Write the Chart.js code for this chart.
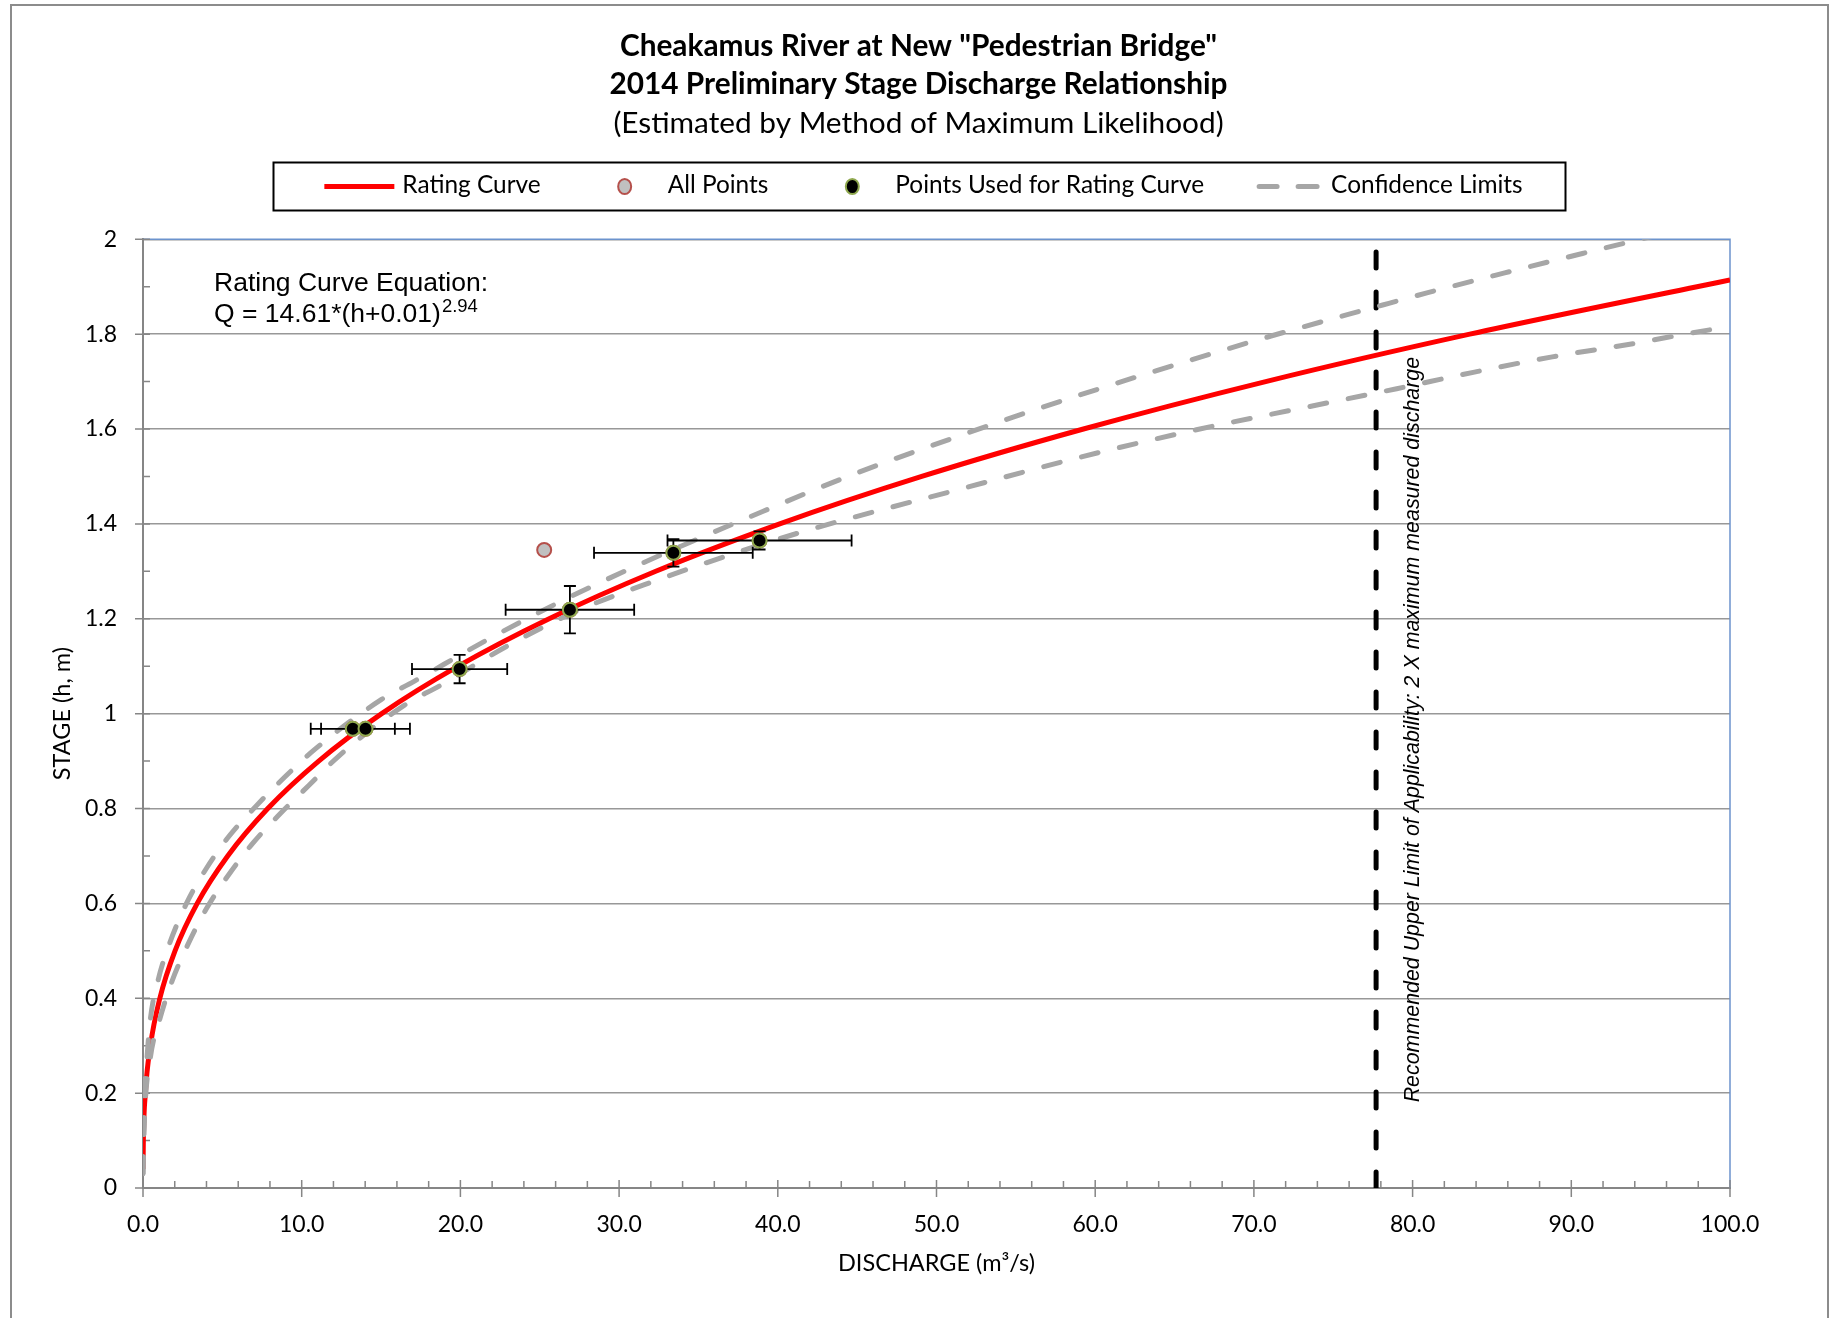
<!DOCTYPE html>
<html>
<head>
<meta charset="utf-8">
<title>Cheakamus River Stage Discharge</title>
<script src="https://cdn.jsdelivr.net/npm/chart.js@4.4.1/dist/chart.umd.min.js"></script>
<style>
html,body{margin:0;padding:0;background:#ffffff;overflow:hidden;}
canvas{display:block;}
</style>
</head>
<body>
<canvas id="chart" width="1837" height="1318"></canvas>
<script>
// ---------------- text ----------------
const titleLines = ['Cheakamus River at New "Pedestrian Bridge"', '2014 Preliminary Stage Discharge Relationship'];
const subtitleText = '(Estimated by Method of Maximum Likelihood)';
const seriesNames = ['Rating Curve', 'All Points', 'Points Used for Rating Curve', 'Confidence Limits'];
const xAxisTitle = 'DISCHARGE (m\u00B3/s)';
const yAxisTitle = 'STAGE (h, m)';
const equationLine1 = 'Rating Curve Equation:';
const equationLine2 = 'Q = 14.61*(h+0.01)';
const equationExponent = '2.94';
const limitLabel = 'Recommended Upper Limit of Applicability: 2 X maximum measured discharge';

// ---------------- ticks ----------------
const xTickValues = [0, 10, 20, 30, 40, 50, 60, 70, 80, 90, 100];
const yTickValues = [0, 0.2, 0.4, 0.6, 0.8, 1.0, 1.2, 1.4, 1.6, 1.8, 2.0];
const xMinorStep = 2;
const yMinorStep = 0.1;

// ---------------- series ----------------
// Rating curve (discharge Q, stage h)
const ratingQ = [0.002, 0.022, 0.149, 0.467, 1.062, 2.018, 3.416, 5.337, 7.863, 11.07, 15.04, 19.86, 25.59, 32.31, 40.12, 49.07, 59.26, 70.74, 83.60, 97.92, 100];
const ratingH = [0.04, 0.10, 0.20, 0.30, 0.40, 0.50, 0.60, 0.70, 0.80, 0.90, 1.00, 1.10, 1.20, 1.30, 1.40, 1.50, 1.60, 1.70, 1.80, 1.90, 1.914];

// Upper confidence limit
const upperQ = [0.0, 0.05, 0.25, 0.46, 0.95, 1.68, 2.74, 3.96, 5.43, 7.12, 8.95, 10.84, 15.03, 17.08, 21.66, 26.0, 30.59, 35.29, 37.47, 44.64, 51.82, 56.6, 63.77, 71.08, 76.0, 78.5, 80.9, 85.8, 90.7, 94.0, 100];
const upperH = [0.03, 0.15, 0.273, 0.355, 0.438, 0.516, 0.600, 0.672, 0.742, 0.805, 0.867, 0.925, 1.030, 1.068, 1.155, 1.231, 1.304, 1.373, 1.404, 1.503, 1.590, 1.645, 1.722, 1.796, 1.842, 1.865, 1.887, 1.929, 1.970, 1.997, 2.045];

// Lower confidence limit
const lowerQ = [0.0, 0.1, 0.46, 1.05, 1.83, 2.84, 4.0, 5.41, 6.95, 8.67, 10.46, 12.32, 16.48, 18.77, 22.92, 27.45, 32.35, 37.1, 41.92, 51.68, 58.99, 66.45, 73.9, 79.0, 83.9, 88.8, 93.9, 98.9, 100];
const lowerH = [0.03, 0.15, 0.274, 0.355, 0.436, 0.514, 0.589, 0.661, 0.728, 0.790, 0.849, 0.910, 1.018, 1.060, 1.142, 1.218, 1.281, 1.336, 1.387, 1.475, 1.540, 1.599, 1.650, 1.685, 1.720, 1.752, 1.780, 1.810, 1.815];

// All measured points
const allQ = [13.22, 14.02, 19.95, 25.28, 26.9, 33.42, 38.85];
const allH = [0.968, 0.968, 1.094, 1.345, 1.219, 1.339, 1.365];

// Points used for the rating curve, with error bars
const usedQ = [13.22, 14.02, 19.95, 26.9, 33.42, 38.85];
const usedH = [0.968, 0.968, 1.094, 1.219, 1.339, 1.365];
const usedQErr = [2.65, 2.8, 3.0, 4.05, 5.0, 5.8];
const usedHErr = [0, 0, 0.03, 0.05, 0.029, 0.019];

// Recommended upper limit of applicability
const limitQ = [77.7, 77.7];
const limitH = [0, 2];

// ---------------- styles ----------------
const RED = '#FF0000';
const GREY = '#A6A6A6';
const AXIS = '#868686';
const GRID = '#989898';
const BLUE = '#6C93CD';

const pts = (xs, ys) => xs.map((x, i) => ({x: x, y: ys[i]}));

const framePlugin = {
  id: 'frame',
  beforeDraw(chart) {
    const c = chart.ctx;
    c.save();
    c.fillStyle = '#ffffff';
    c.fillRect(0, 0, chart.width, chart.height);
    c.strokeStyle = '#8c8c8c';
    c.lineWidth = 2;
    c.strokeRect(11, 5, chart.width - 20, chart.height + 20);
    c.restore();
  }
};

const axesPlugin = {
  id: 'axesMarks',
  beforeDatasetsDraw(chart) {
    const c = chart.ctx, a = chart.chartArea, xs = chart.scales.x, ys = chart.scales.y;
    c.save();
    c.strokeStyle = BLUE; c.lineWidth = 1.5;
    c.beginPath();
    c.moveTo(a.left, a.top); c.lineTo(a.right, a.top); c.lineTo(a.right, a.bottom);
    c.stroke();
    c.strokeStyle = AXIS; c.lineWidth = 1.5;
    c.beginPath();
    yTickValues.forEach(v => { const p = ys.getPixelForValue(v); c.moveTo(a.left - 8, p); c.lineTo(a.left + 7, p); });
    for (let i = 0; i < yTickValues.length - 1; i++) {
      const p = ys.getPixelForValue(yTickValues[i] + yMinorStep);
      c.moveTo(a.left, p); c.lineTo(a.left + 7, p);
    }
    xTickValues.forEach(v => { const p = xs.getPixelForValue(v); c.moveTo(p, a.bottom - 8); c.lineTo(p, a.bottom + 9); });
    for (let i = 0; i < xTickValues.length - 1; i++) {
      for (let v = xTickValues[i] + xMinorStep; v < xTickValues[i + 1] - 1e-9; v += xMinorStep) {
        const p = xs.getPixelForValue(v);
        c.moveTo(p, a.bottom - 7); c.lineTo(p, a.bottom);
      }
    }
    c.stroke();
    c.restore();
  }
};

const errorBarPlugin = {
  id: 'errorBars',
  beforeDatasetDraw(chart, args) {
    if (args.index !== 0) return;
    const c = chart.ctx, xs = chart.scales.x, ys = chart.scales.y, a = chart.chartArea;
    const cap = 6;
    c.save();
    c.beginPath(); c.rect(a.left, a.top, a.right - a.left, a.bottom - a.top); c.clip();
    c.strokeStyle = '#000'; c.lineWidth = 1.8;
    c.beginPath();
    usedQ.forEach((q, i) => {
      const py = ys.getPixelForValue(usedH[i]);
      const px = xs.getPixelForValue(q);
      if (usedQErr[i] > 0) {
        const x1 = xs.getPixelForValue(q - usedQErr[i]), x2 = xs.getPixelForValue(q + usedQErr[i]);
        c.moveTo(x1, py); c.lineTo(x2, py);
        c.moveTo(x1, py - cap); c.lineTo(x1, py + cap);
        c.moveTo(x2, py - cap); c.lineTo(x2, py + cap);
      }
      if (usedHErr[i] > 0) {
        const y1 = ys.getPixelForValue(usedH[i] - usedHErr[i]), y2 = ys.getPixelForValue(usedH[i] + usedHErr[i]);
        c.moveTo(px, y1); c.lineTo(px, y2);
        c.moveTo(px - cap, y1); c.lineTo(px + cap, y1);
        c.moveTo(px - cap, y2); c.lineTo(px + cap, y2);
      }
    });
    c.stroke();
    c.restore();
  }
};

const LEGEND_FONT = '24.4px Lato';

const annotationPlugin = {
  id: 'annotations',
  afterDraw(chart) {
    const c = chart.ctx, a = chart.chartArea, xs = chart.scales.x, ys = chart.scales.y;
    c.save();
    // legend box
    const cx = chart.width / 2 + 1;
    const boxW = 1292, boxTop = 162.5, boxH = 48;
    c.strokeStyle = '#000'; c.lineWidth = 2;
    c.strokeRect(cx - boxW / 2, boxTop, boxW, boxH);
    c.font = LEGEND_FONT;
    const symW = 70, gapT = 8, gapI = 49;
    const widths = seriesNames.map(s => c.measureText(s).width);
    const total = 4 * symW + 4 * gapT + widths.reduce((p, q) => p + q, 0) + 3 * gapI;
    let xp = cx + 4 - total / 2;
    const cy = boxTop + boxH / 2;
    seriesNames.forEach((name, i) => {
      c.save();
      if (i === 0) {
        c.strokeStyle = RED; c.lineWidth = 5; c.lineCap = 'butt';
        c.beginPath(); c.moveTo(xp, cy); c.lineTo(xp + symW, cy); c.stroke();
      } else if (i === 1 || i === 2) {
        c.fillStyle = i === 1 ? '#C0C0C0' : '#000000';
        c.strokeStyle = i === 1 ? '#B5504B' : '#8FA84E';
        c.lineWidth = 2;
        c.beginPath(); c.ellipse(xp + symW / 2, cy, 6.5, 7.5, 0, 0, Math.PI * 2); c.fill(); c.stroke();
      } else {
        c.strokeStyle = GREY; c.lineWidth = 5; c.lineCap = 'round';
        c.beginPath();
        c.moveTo(xp + 6, cy); c.lineTo(xp + 24, cy);
        c.moveTo(xp + 45, cy); c.lineTo(xp + 64, cy);
        c.stroke();
      }
      c.restore();
      c.fillStyle = '#000'; c.textAlign = 'left'; c.textBaseline = 'middle';
      c.font = LEGEND_FONT;
      c.fillText(name, xp + symW + gapT, cy - 1);
      xp += symW + gapT + widths[i] + gapI;
    });
    // equation
    c.fillStyle = '#000'; c.textAlign = 'left'; c.textBaseline = 'alphabetic';
    c.font = '26.5px "Liberation Sans"';
    const ex = a.left + 71, ey = a.top + 52;
    c.fillText(equationLine1, ex, ey);
    c.fillText(equationLine2, ex, ey + 30.5);
    const w2 = c.measureText(equationLine2).width;
    c.font = '18.5px "Liberation Sans"';
    c.fillText(equationExponent, ex + w2 + 1, ey + 30.5 - 10);
    // vertical limit label
    const lx = xs.getPixelForValue(limitQ[0]) + 43;
    const ly = (a.top + a.bottom) / 2 + 16;
    c.translate(lx, ly);
    c.rotate(-Math.PI / 2);
    c.font = 'italic 21.4px "Liberation Sans"';
    c.textAlign = 'center';
    c.fillText(limitLabel, 0, 0);
    c.restore();
  }
};

Chart.defaults.font.family = 'Lato';
Chart.defaults.color = '#000';

new Chart(document.getElementById('chart'), {
  type: 'line',
  data: {
    datasets: [
      {
        label: seriesNames[2], data: pts(usedQ, usedH), order: 0, showLine: false,
        pointRadius: 7, pointBackgroundColor: '#000000', pointBorderColor: '#8FA84E', pointBorderWidth: 2,
        borderColor: '#8FA84E', backgroundColor: '#000000'
      },
      {
        label: seriesNames[1], data: pts(allQ, allH), order: 1, showLine: false,
        pointRadius: 7, pointBackgroundColor: '#C0C0C0', pointBorderColor: '#B5504B', pointBorderWidth: 2,
        borderColor: '#B5504B', backgroundColor: '#C0C0C0'
      },
      {
        label: seriesNames[3], data: pts(upperQ, upperH), order: 2, pointRadius: 0,
        borderColor: GREY, borderWidth: 5, borderDash: [17, 22], borderCapStyle: 'round',
        cubicInterpolationMode: 'monotone', clip: 0, fill: false
      },
      {
        label: seriesNames[3] + ' (lower)', data: pts(lowerQ, lowerH), order: 3, pointRadius: 0,
        borderColor: GREY, borderWidth: 5, borderDash: [17, 22], borderCapStyle: 'round',
        cubicInterpolationMode: 'monotone', clip: 0, fill: false
      },
      {
        label: seriesNames[0], data: pts(ratingQ, ratingH), order: 4, pointRadius: 0,
        borderColor: RED, borderWidth: 5, cubicInterpolationMode: 'monotone', clip: 0, fill: false
      },
      {
        label: 'Upper limit', data: pts(limitQ, limitH), order: 5, pointRadius: 0,
        borderColor: '#000000', borderWidth: 5, borderDash: [16, 24], borderCapStyle: 'round', clip: 0, fill: false
      }
    ]
  },
  options: {
    responsive: false,
    devicePixelRatio: 1,
    animation: false,
    events: [],
    layout: { padding: 0 },
    scales: {
      x: {
        type: 'linear', position: 'bottom', min: 0, max: 100,
        ticks: {
          stepSize: 10, autoSkip: false, maxRotation: 0, padding: 22.3,
          font: { family: 'Lato', size: 23 }, color: '#000',
          callback: v => Number(v).toFixed(1)
        },
        afterBuildTicks: s => { s.ticks = xTickValues.map(v => ({value: v})); },
        grid: { display: false, drawTicks: false },
        border: { display: true, color: AXIS, width: 2 },
        title: { display: true, text: xAxisTitle, font: { family: 'Lato', size: 23.5 }, color: '#000', padding: { top: 0, bottom: 40 } },
        afterFit: s => { s.height = 130; }
      },
      y: {
        type: 'linear', position: 'left', min: 0, max: 2,
        ticks: {
          stepSize: 0.2, padding: 26, autoSkip: false,
          font: { family: 'Lato', size: 23 }, color: '#000',
          callback: v => String(Number(Number(v).toFixed(1)))
        },
        afterBuildTicks: s => { s.ticks = yTickValues.map(v => ({value: v})); },
        grid: { display: true, drawTicks: false, color: GRID, lineWidth: 1.5 },
        border: { display: true, color: AXIS, width: 2 },
        title: { display: true, text: yAxisTitle, font: { family: 'Lato', size: 23.5 }, color: '#000', padding: { top: 48, bottom: 0 } },
        afterFit: s => { s.width = 143; }
      },
      yRight: {
        type: 'linear', position: 'right', display: true,
        ticks: { display: false },
        grid: { display: false, drawTicks: false },
        border: { display: false },
        afterFit: s => { s.width = 107; }
      }
    },
    plugins: {
      legend: { display: false },
      tooltip: { enabled: false },
      title: {
        display: true, text: titleLines, color: '#000',
        font: { family: 'Lato', size: 29.8, weight: 'bold', lineHeight: '38.7px' },
        padding: { top: 26.6, bottom: 0 }
      },
      subtitle: {
        display: true, text: subtitleText, color: '#000',
        font: { family: 'Lato', size: 29.8, weight: 'normal', lineHeight: '38.5px' },
        padding: { top: 0.5, bottom: 96.25 }
      }
    }
  },
  plugins: [framePlugin, axesPlugin, errorBarPlugin, annotationPlugin]
});
</script>
</body>
</html>
